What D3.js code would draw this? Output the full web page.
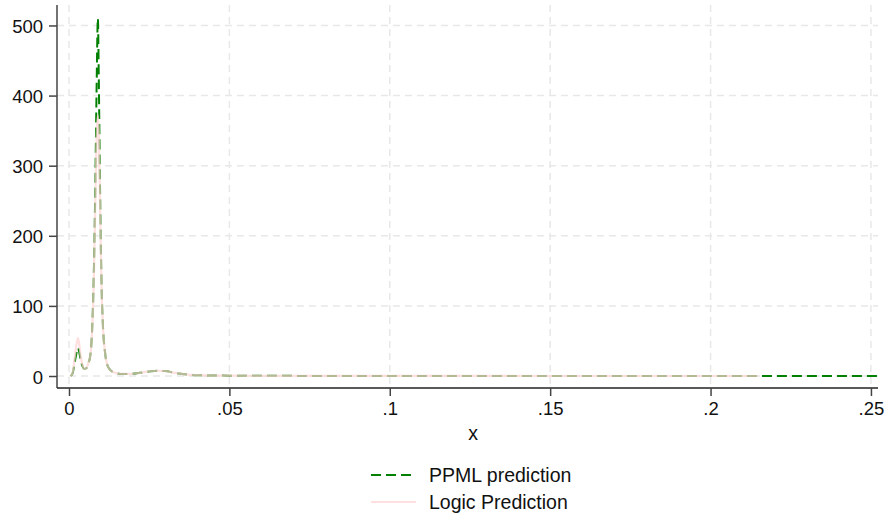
<!DOCTYPE html>
<html><head><meta charset="utf-8">
<script src="https://cdn.jsdelivr.net/npm/d3@7"></script>
<style>body{margin:0;background:#fff}svg{display:block}text{font-family:"Liberation Sans",Arial,sans-serif;fill:#111}</style>
</head><body><svg id="c" width="888" height="520"></svg>
<script>
// x positions of the estimates
const xPPML  = [0.0006,0.0012,0.0018,0.0024,0.0028,0.0032,0.0036,0.0042,0.0048,0.0054,0.0060,0.0066,0.0072,0.0078,0.0082,0.0086,0.0090,0.0093,0.0097,0.0101,0.0106,0.0112,0.0120,0.0130,0.0142,0.0160,0.0190,0.0220,0.0250,0.0275,0.0300,0.0330,0.0370,0.0420,0.0500,0.0700,0.1000,0.1500,0.2000,0.2148,0.2520];
const ppml   = [0,5,20,34,40,34,24,14,10,11,18,28,65,160,270,410,510,420,260,140,70,35,15,8,5,3,3,4.5,6.5,7.5,7,4.5,2,1,0.5,0.2,0.1,0.05,0.02,0.01,0.01];
const xLogic = [0.0006,0.0012,0.0018,0.0024,0.0028,0.0032,0.0036,0.0042,0.0048,0.0054,0.0060,0.0066,0.0072,0.0078,0.0082,0.0086,0.0090,0.0093,0.0097,0.0101,0.0106,0.0112,0.0120,0.0130,0.0142,0.0160,0.0190,0.0220,0.0250,0.0275,0.0300,0.0330,0.0370,0.0420,0.0500,0.0700,0.1000,0.1500,0.2000,0.2148];
const logic  = [0,6,27,47,54,45,30,16,10,11,18,28,63,150,245,340,372,345,240,135,68,35,15,8,5,3,3,4.5,6.5,7.5,7,4.5,2,1,0.5,0.2,0.1,0.05,0.02,0.01];
const xTicks = [0,0.05,0.1,0.15,0.2,0.25];
const xTickLabels = ["0",".05",".1",".15",".2",".25"];
const yTicks = [0,100,200,300,400,500];
const seriesNames = ["PPML prediction","Logic Prediction"];

const svg = d3.select("#c");
const L=57, R=878, T=5, B=388;
const x = d3.scaleLinear().domain([-0.00374,0.2522]).range([L,R]);
const y = d3.scaleLinear().domain([-17.1,529.2]).range([B,T]);
const FS = "18.5px", LFS = "19.5px";

// grid
const g = svg.append("g");
g.selectAll(".hg").data(yTicks).join("line")
  .attr("x1",L).attr("x2",R).attr("y1",d=>y(d)).attr("y2",d=>y(d))
  .attr("stroke","#e8e8e8").attr("stroke-width",1.5).attr("stroke-dasharray","7,5");
g.selectAll(".vg").data(xTicks).join("line")
  .attr("y1",T).attr("y2",B).attr("x1",d=>x(d)).attr("x2",d=>x(d))
  .attr("stroke","#e8e8e8").attr("stroke-width",1.5).attr("stroke-dasharray","7,5");

// lines
const line = d3.line().x(d=>x(d[0])).y(d=>y(d[1])).curve(d3.curveMonotoneX);
svg.append("path").attr("d",line(xPPML.map((v,i)=>[v,ppml[i]])))
  .attr("fill","none").attr("stroke","#008000").attr("stroke-width",2).attr("stroke-dasharray","10,5");
svg.append("path").attr("d",line(xLogic.map((v,i)=>[v,logic[i]])))
  .attr("fill","none").attr("stroke","#ffd2d2").attr("stroke-opacity",0.7).attr("stroke-width",2.2);

// axes
const ya = svg.append("g").attr("transform",`translate(${L},0)`)
  .call(d3.axisLeft(y).tickValues(yTicks).tickSize(8).tickPadding(6));
ya.select(".domain").attr("d",`M0,${T}V${B}`).attr("stroke","#444").attr("stroke-width",1.5);
ya.selectAll(".tick line").attr("stroke","#444").attr("stroke-width",1.5);
ya.selectAll("text").style("font-size",FS).attr("dy","0.38em").attr("fill","#111");

const xa = svg.append("g").attr("transform",`translate(0,${B})`)
  .call(d3.axisBottom(x).tickValues(xTicks).tickFormat((d,i)=>xTickLabels[i]).tickSize(8).tickPadding(6));
xa.select(".domain").attr("d",`M${L},0H${R}`).attr("stroke","#222").attr("stroke-width",1.5);
xa.selectAll(".tick line").attr("stroke","#444").attr("stroke-width",1.5);
xa.selectAll("text").style("font-size",FS).attr("fill","#111");

svg.append("text").attr("x",473).attr("y",440).attr("text-anchor","middle").style("font-size",LFS).text("x");

// legend
const lg = svg.append("g");
lg.append("line").attr("x1",371).attr("x2",416).attr("y1",475).attr("y2",475)
  .attr("stroke","#008000").attr("stroke-width",2).attr("stroke-dasharray","10,5");
lg.append("text").attr("x",429).attr("y",482).style("font-size",LFS).text(seriesNames[0]);
lg.append("line").attr("x1",371).attr("x2",416).attr("y1",502).attr("y2",502)
  .attr("stroke","#ffd2d2").attr("stroke-opacity",0.7).attr("stroke-width",2.2);
lg.append("text").attr("x",429).attr("y",509).style("font-size",LFS).text(seriesNames[1]);
</script></body></html>
